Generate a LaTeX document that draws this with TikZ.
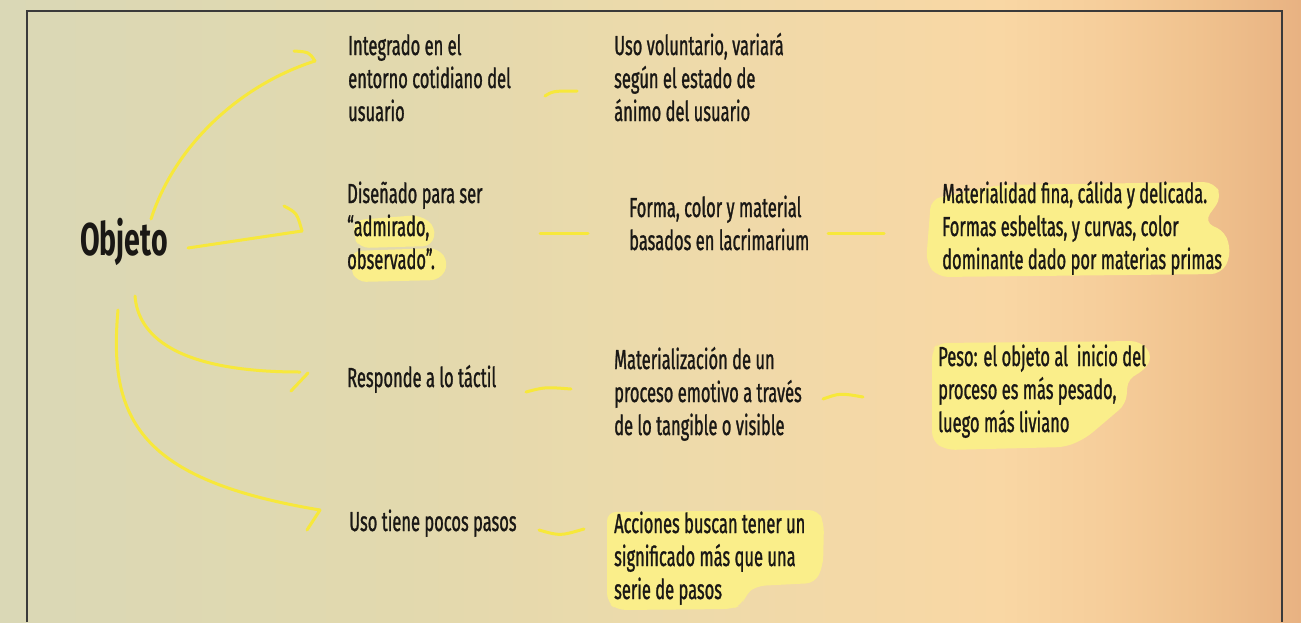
\documentclass[tikz,border=0pt]{standalone}
\usepackage{fontspec}
\setmainfont{Fira Sans}[FakeStretch=0.6, FakeBold=1]
\newfontfamily\headfont{Fira Sans}[FakeStretch=0.62]

% palette
\definecolor{ink}{HTML}{1A1815}
\definecolor{marker}{HTML}{F7E83B}
\definecolor{hilite}{HTML}{FAEE8A}
\definecolor{frame}{HTML}{3A3A3A}
\definecolor{bgA}{HTML}{DAD8B6}
\definecolor{bgB}{HTML}{E2D9AE}
\definecolor{bgC}{HTML}{EEDAAA}
\definecolor{bgD}{HTML}{F9D7A4}
\definecolor{bgE}{HTML}{F6CE9B}
\definecolor{bgF}{HTML}{F0C28E}
\definecolor{bgG}{HTML}{E8B282}

% warm paper gradient, left to right
\pgfdeclarehorizontalshading{paper}{100bp}{color(0bp)=(bgA); color(25bp)=(bgA);
  color(40.4bp)=(bgB); color(51.9bp)=(bgC); color(63.4bp)=(bgD);
  color(67.3bp)=(bgE); color(71.1bp)=(bgF); color(75bp)=(bgG); color(100bp)=(bgG)}

% left-aligned lines with a fixed baseline distance; baseline = first line
\newcommand\textlines[1]{\vtop{\lineskiplimit=-\maxdimen\halign{##\hfil\cr#1\crcr}}}
\newcommand\bodysize{\fontsize{27.5}{33}\selectfont}

\begin{document}
\begin{tikzpicture}[x=1pt,y=-1pt,
  txt/.style={anchor=base west, inner sep=0pt, text=ink, font=\bodysize},
  headtxt/.style={anchor=base west, inner sep=0pt, text=ink,
    font=\headfont\bfseries\fontsize{46}{46}\selectfont},
  pen/.style={draw=marker, line width=3pt, line cap=round, line join=round},
  hl/.style={fill=hilite, rounded corners=9pt}]

\useasboundingbox (0,0) rectangle (1301,622);
\shade[shading=paper] (0,0) rectangle (1301,622);
\draw[frame, line width=1.3pt] (27,622) -- (27,11) -- (1282,11) -- (1282,622);

% marker highlights behind the text
\fill[hl] (355,220) -- (420,215) -- (436,227) -- (432,246) -- (360,248) -- (353,236) -- cycle;
\fill[hl] (352,251) -- (438,248) -- (449,263) -- (440,280) -- (357,282) -- (350,268) -- cycle;
\fill[hl, rounded corners=10pt] (931,199) -- (1000,185) -- (1214,182) -- (1222,197) -- (1204,222)
  -- (1226,232) -- (1231,256) -- (1221,274) -- (938,277) -- (926,263) -- cycle;
\fill[hl] (932,350) -- (938,343) -- (1140,341) -- (1153,356) -- (1143,372) -- (1128,378)
  -- (1126,404) -- (1086,438) -- (1066,447) -- (946,450) -- (932,441) -- cycle;
\fill[hl] (607,512) -- (818,510) -- (824,523) -- (823,566) -- (815,583) -- (756,586)
  -- (746,594) -- (742,605) -- (732,609) -- (617,610) -- (607,602) -- cycle;

% texts
\node[headtxt] (obj) at (80,255) {Objeto};
\node[txt] (integ) at (348,55) {\textlines{Integrado en el\cr entorno cotidiano del\cr usuario}};
\node[txt] (volun) at (614,55) {\textlines{Uso voluntario, variará\cr según el estado de\cr ánimo del usuario}};
\node[txt] (disen) at (347,203) {\textlines{Diseñado para ser\cr “admirado,\cr observado”.}};
\node[txt] (forma) at (629,217) {\textlines{Forma, color y material\cr basados en lacrimarium}};
\node[txt] (mater) at (942,203) {\textlines{Materialidad fina, cálida y delicada.\cr Formas esbeltas, y curvas, color\cr dominante dado por materias primas}};
\node[txt] (tactil) at (347,387) {Responde a lo táctil};
\node[txt] (proce) at (614,369) {\textlines{Materialización de un\cr proceso emotivo a través\cr de lo tangible o visible}};
\node[txt] (peso) at (938,366) {\textlines{Peso: el objeto al\ \ inicio del\cr proceso es más pesado,\cr luego más liviano}};
\node[txt] (pasos) at (349,531) {Uso tiene pocos pasos};
\node[txt] (accion) at (614,533) {\textlines{Acciones buscan tener un\cr significado más que una\cr serie de pasos}};

% stroke end points
\coordinate (a0) at (151,219); \coordinate (a1) at (315,61);  \coordinate (ab) at (294,51);
\coordinate (b0) at (188,248); \coordinate (b1) at (302,231); \coordinate (bb) at (284,206);
\coordinate (c0) at (135,296); \coordinate (c1) at (300,372);
\coordinate (cb0) at (308,373); \coordinate (cb1) at (291,391);
\coordinate (d0) at (118,310); \coordinate (d1) at (320,510); \coordinate (db) at (307,530);

% hand-drawn arrows out of "Objeto"
\draw[pen] (a0) .. controls (175,145) and (240,85) .. (a1);
\draw[pen] (ab) .. controls (309,52) .. (a1);
\draw[pen] (b0) -- (b1);
\draw[pen] (bb) .. controls (297,213) .. (b1);
\draw[pen] (c0) .. controls (138,335) and (175,372) .. (c1);
\draw[pen] (cb0) -- (cb1);
\draw[pen] (d0) .. controls (108,420) and (140,480) .. (d1);
\draw[pen] (d1) -- (db);

% short dashes between the columns
\coordinate (r1a) at (545,96);  \coordinate (r1b) at (577,91);
\coordinate (r2a) at (540,233); \coordinate (r2b) at (588,233);
\coordinate (r2c) at (828,233); \coordinate (r2d) at (884,233);
\coordinate (r3a) at (526,392); \coordinate (r3b) at (571,389);
\coordinate (r3c) at (823,399); \coordinate (r3d) at (863,397);
\coordinate (r4a) at (539,530); \coordinate (r4b) at (584,529);
\draw[pen] (r1a) .. controls (553,91) .. (r1b);
\draw[pen] (r2a) -- (r2b);
\draw[pen] (r2c) -- (r2d);
\draw[pen] (r3a) .. controls (545,387) .. (r3b);
\draw[pen] (r3c) .. controls (840,393) .. (r3d);
\draw[pen] (r4a) .. controls (560,536) .. (r4b);
\end{tikzpicture}
\end{document}
